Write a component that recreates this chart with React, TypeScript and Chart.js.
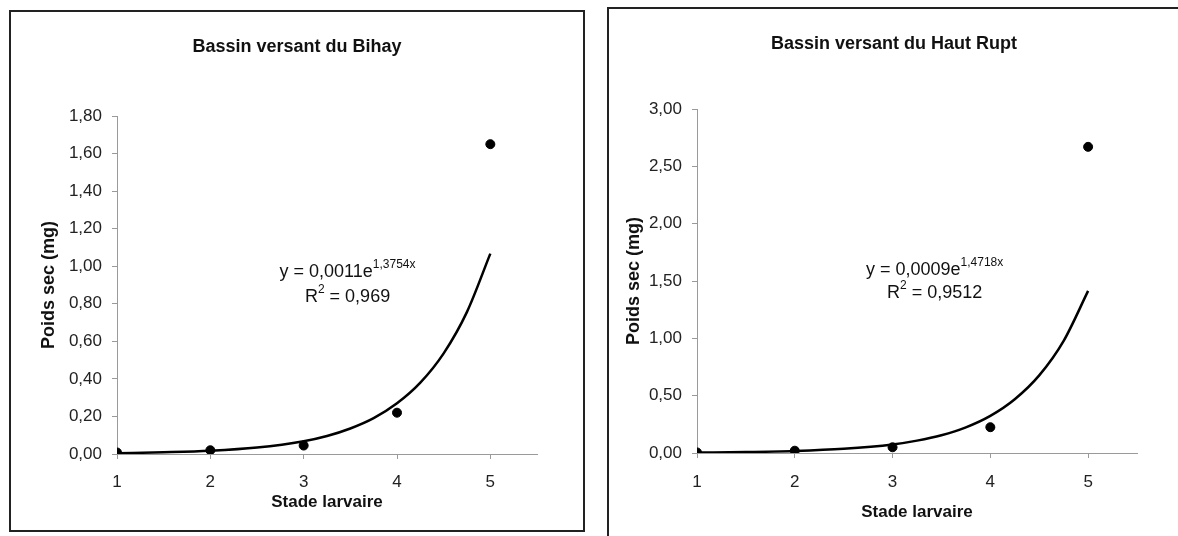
import React, { useEffect, useRef } from 'react';
import { Chart, registerables } from 'chart.js';

Chart.register(...registerables);

const FONT = '"Liberation Sans", Arial, sans-serif';

// ---- data ----
const stages = [1, 2, 3, 4, 5];
const bihayWeights = [0.008, 0.02, 0.045, 0.22, 1.65];
const hautRuptWeights = [0.005, 0.02, 0.05, 0.225, 2.67];

const trendStages = [1, 1.5, 2, 2.5, 3, 3.25, 3.5, 3.75, 4, 4.25, 4.5, 4.75, 5];
const bihayTrend = [0.004, 0.009, 0.017, 0.034, 0.068, 0.096, 0.136, 0.191, 0.27, 0.38, 0.536, 0.757, 1.067];
const hautRuptTrend = [0.004, 0.008, 0.017, 0.036, 0.074, 0.108, 0.155, 0.224, 0.324, 0.469, 0.677, 0.978, 1.414];

const bihayTitle = 'Bassin versant du Bihay';
const hautRuptTitle = 'Bassin versant du Haut Rupt';
const xAxisTitle = 'Stade larvaire';
const yAxisTitle = 'Poids sec (mg)';

const bihayEquation = { coef: '0,0011', exp: '1,3754x', r2: '0,969' };
const hautRuptEquation = { coef: '0,0009', exp: '1,4718x', r2: '0,9512' };

const bihayYMax = 1.8;
const bihayYStep = 0.2;
const hautRuptYMax = 3;
const hautRuptYStep = 0.5;
const xMin = 1;
const xMax = 5.5;

type Part = { t: string; sup?: boolean };

function drawParts(ctx: CanvasRenderingContext2D, parts: Part[], cx: number, y: number) {
  const main = `18px ${FONT}`;
  const small = `12px ${FONT}`;
  let total = 0;
  const widths = parts.map((p) => {
    ctx.font = p.sup ? small : main;
    const w = ctx.measureText(p.t).width;
    total += w;
    return w;
  });
  let x = cx - total / 2;
  ctx.textAlign = 'left';
  parts.forEach((p, i) => {
    ctx.font = p.sup ? small : main;
    ctx.fillText(p.t, x, p.sup ? y - 7 : y);
    x += widths[i];
  });
}

const textPlugin = {
  id: 'panelText',
  afterDraw(chart: any, _args: any, opts: any) {
    const { ctx } = chart;
    ctx.save();
    ctx.fillStyle = '#111';
    ctx.textBaseline = 'middle';
    ctx.textAlign = 'center';
    ctx.font = `bold 18px ${FONT}`;
    ctx.fillText(opts.title, chart.width / 2, opts.titleY);
    const xs = chart.scales.x;
    const ys = chart.scales.y;
    const cx = xs.getPixelForValue(opts.eqX);
    drawParts(ctx, [{ t: 'y = ' + opts.eq.coef + 'e' }, { t: opts.eq.exp, sup: true }], cx, ys.getPixelForValue(opts.eqY1));
    drawParts(ctx, [{ t: 'R' }, { t: '2', sup: true }, { t: ' = ' + opts.eq.r2 }], cx, ys.getPixelForValue(opts.eqY2));
    ctx.restore();
  },
};

type PanelProps = {
  width: number;
  height: number;
  title: string;
  titleY: number;
  weights: number[];
  trend: number[];
  yMax: number;
  yStep: number;
  yAxisWidth: number;
  xAxisHeight: number;
  padTop: number;
  padRight: number;
  yTitlePad: number;
  xTitlePad: number;
  xTickPad: number;
  eq: { coef: string; exp: string; r2: string };
  eqX: number;
  eqY1: number;
  eqY2: number;
};

function Panel(p: PanelProps) {
  const ref = useRef<HTMLCanvasElement>(null);
  useEffect(() => {
    if (!ref.current) return;
    const axisColor = '#9a9a9a';
    const chart = new Chart(ref.current, {
      type: 'scatter',
      data: {
        datasets: [
          {
            type: 'line',
            data: trendStages.map((x, i) => ({ x, y: p.trend[i] })),
            borderColor: '#000',
            borderWidth: 2.5,
            pointRadius: 0,
            cubicInterpolationMode: 'monotone',
            fill: false,
          } as any,
          {
            type: 'scatter',
            data: stages.map((x, i) => ({ x, y: p.weights[i] })),
            backgroundColor: '#000',
            borderColor: '#000',
            pointRadius: 4.5,
          },
        ],
      },
      options: {
        animation: false,
        responsive: false,
        devicePixelRatio: 1,
        layout: { padding: { top: p.padTop, right: p.padRight, left: 0, bottom: 0 } },
        plugins: {
          legend: { display: false },
          tooltip: { enabled: false },
          panelText: {
            title: p.title,
            titleY: p.titleY,
            eq: p.eq,
            eqX: p.eqX,
            eqY1: p.eqY1,
            eqY2: p.eqY2,
          },
        } as any,
        scales: {
          x: {
            type: 'linear',
            min: xMin,
            max: xMax,
            afterFit: (s: any) => {
              s.height = p.xAxisHeight;
            },
            ticks: {
              stepSize: 1,
              includeBounds: false,
              padding: p.xTickPad,
              color: '#222',
              font: { family: FONT, size: 17 },
              callback: (v: any) => String(v),
            },
            grid: { drawOnChartArea: false, drawTicks: true, tickLength: 5, color: axisColor },
            border: { display: true, color: axisColor, width: 1 },
            title: {
              display: true,
              text: xAxisTitle,
              color: '#111',
              font: { family: FONT, size: 17, weight: 'bold' },
              padding: { top: 0, bottom: p.xTitlePad },
            },
          },
          y: {
            type: 'linear',
            min: 0,
            max: p.yMax,
            afterFit: (s: any) => {
              s.width = p.yAxisWidth;
            },
            ticks: {
              stepSize: p.yStep,
              padding: 10,
              color: '#222',
              font: { family: FONT, size: 17 },
              callback: (v: any) => Number(v).toFixed(2).replace('.', ','),
            },
            grid: { drawOnChartArea: false, drawTicks: true, tickLength: 5, color: axisColor },
            border: { display: true, color: axisColor, width: 1 },
            title: {
              display: true,
              text: yAxisTitle,
              color: '#111',
              font: { family: FONT, size: 18, weight: 'bold' },
              padding: { top: p.yTitlePad, bottom: 0 },
            },
          },
        },
      } as any,
      plugins: [textPlugin as any],
    });
    return () => chart.destroy();
  }, []);
  return <canvas ref={ref} width={p.width} height={p.height} style={{ display: 'block', width: p.width, height: p.height }} />;
}

export default function App() {
  return (
    <div style={{ position: 'fixed', left: 0, top: 0, width: 1178, height: 536, overflow: 'hidden', background: '#fff' }}>
      <div
        style={{
          position: 'absolute',
          left: 9,
          top: 10,
          width: 576,
          height: 522,
          border: '2px solid #222',
          boxSizing: 'border-box',
          overflow: 'hidden',
        }}
      >
        <Panel
          width={572}
          height={518}
          title={bihayTitle}
          titleY={35}
          weights={bihayWeights}
          trend={bihayTrend}
          yMax={bihayYMax}
          yStep={bihayYStep}
          yAxisWidth={106}
          xAxisHeight={76}
          padTop={104}
          padRight={46}
          yTitlePad={27}
          xTitlePad={17}
          xTickPad={13}
          eq={bihayEquation}
          eqX={3.47}
          eqY1={0.97}
          eqY2={0.836}
        />
      </div>
      <div
        style={{
          position: 'absolute',
          left: 607,
          top: 7,
          width: 580,
          height: 540,
          border: '2px solid #222',
          boxSizing: 'border-box',
          overflow: 'hidden',
        }}
      >
        <Panel
          width={570}
          height={530}
          title={hautRuptTitle}
          titleY={35}
          weights={hautRuptWeights}
          trend={hautRuptTrend}
          yMax={hautRuptYMax}
          yStep={hautRuptYStep}
          yAxisWidth={88}
          xAxisHeight={86}
          padTop={100}
          padRight={42}
          yTitlePad={14}
          xTitlePad={16}
          xTickPad={14}
          eq={hautRuptEquation}
          eqX={3.43}
          eqY1={1.596}
          eqY2={1.395}
        />
      </div>
    </div>
  );
}
